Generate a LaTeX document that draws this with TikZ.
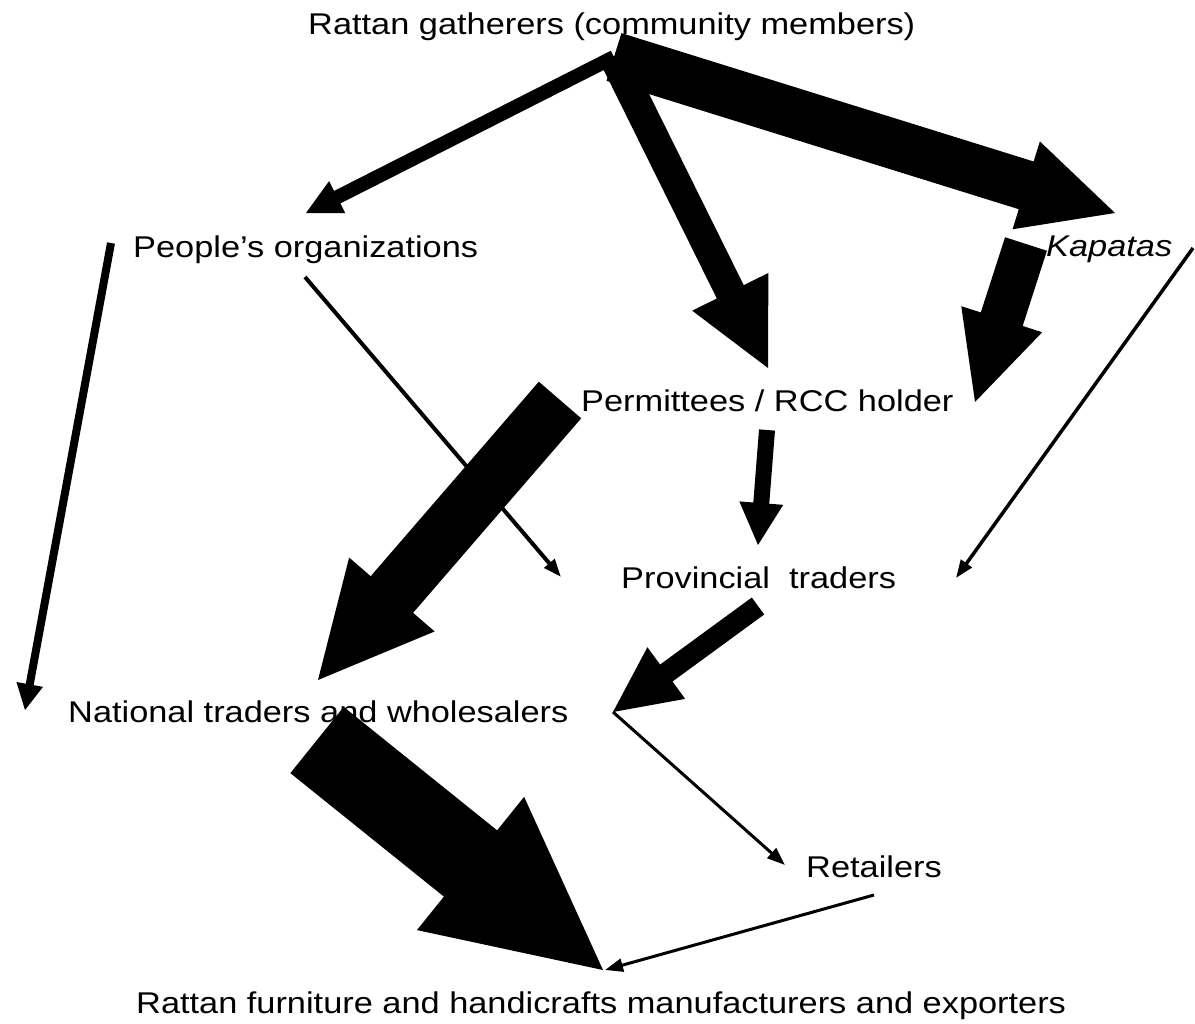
\documentclass[tikz,border=0pt]{standalone}
\usepackage{fontspec}
\setmainfont{Liberation Sans}[FakeStretch=1.145]
\usetikzlibrary{calc,arrows.meta}

% filled block arrow: tail, tip, shaft width, head width, head length (in pt)
\newcommand{\flowarrow}[5]{%
  \coordinate (neck) at ($(#2)!#5pt!(#1)$);
  \fill ($(#1)!#3pt/2!90:(#2)$) -- ($(neck)!#3pt/2!90:(#2)$)
    -- ($(neck)!#4pt/2!90:(#2)$) -- (#2)
    -- ($(neck)!#4pt/2!-90:(#2)$) -- ($(neck)!#3pt/2!-90:(#2)$)
    -- ($(#1)!#3pt/2!-90:(#2)$) -- cycle;}

\tikzset{
  lbl/.style={anchor=base west, inner sep=0pt, font=\fontsize{30}{36}\selectfont},
  thinflow/.style={draw, line width=#1, -{Triangle[length=18pt,width=13pt]}},
  thinflow/.default=3pt
}

\begin{document}
\begin{tikzpicture}[x=1pt, y=-1pt]
\useasboundingbox (0,0) rectangle (1195,1024);

\node[lbl] (gath) at (308,35) {Rattan gatherers (community members)};
\node[lbl] (po) at (133,258) {People’s organizations};
\node[lbl] (kap) at (1046,257) {\itshape Kapatas};
\node[lbl] (perm) at (581,412) {Permittees / RCC holder};
\node[lbl] (prov) at (621,588) {Provincial\ \ traders};
\node[lbl] (nat) at (68,722) {National traders and wholesalers};
\node[lbl] (ret) at (806,877) {Retailers};
\node[lbl] (manu) at (136,1013) {Rattan furniture and handicrafts manufacturers and exporters};

% arrow ends
\coordinate (hub) at (614,57);
\coordinate (po-in) at (306,213);
\coordinate (perm-in) at (768,368);
\coordinate (kap-in) at (1115,213);
\coordinate (kap-out) at (1026,244);
\coordinate (perm-in2) at (975,402);
\coordinate (kap-out2) at (1193,248);
\coordinate (prov-in2) at (956,578);
\coordinate (po-out) at (111,243);
\coordinate (nat-in2) at (25,710);
\coordinate (po-out2) at (305,277);
\coordinate (prov-in3) at (561,577);
\coordinate (perm-out) at (560,400);
\coordinate (nat-in) at (318,680);
\coordinate (perm-out2) at (767,430);
\coordinate (prov-in) at (758,545);
\coordinate (prov-out) at (758,606);
\coordinate (nat-in3) at (613,712);
\coordinate (ret-in) at (785,865);
\coordinate (nat-out) at (317,740);
\coordinate (manu-in) at (603,970);
\coordinate (ret-out) at (874,895);
\coordinate (manu-in2) at (605,970);

\flowarrow{hub}{po-in}{14}{36}{35}
\flowarrow{hub}{perm-in}{30}{85}{85}
\flowarrow{hub}{kap-in}{50}{92}{93}
\flowarrow{kap-out}{perm-in2}{44}{85}{87}
\flowarrow{po-out}{nat-in2}{8}{27}{26}
\draw[thinflow=4pt] (po-out2) -- (prov-in3);
\draw[thinflow=3.5pt] (kap-out2) -- (prov-in2);
\flowarrow{perm-out}{nat-in}{56}{113}{113}
\flowarrow{perm-out2}{prov-in}{16}{44}{42}
\flowarrow{prov-out}{nat-in3}{21}{64}{66}
\draw[thinflow] (nat-in3) -- (ret-in);
\flowarrow{nat-out}{manu-in}{85}{171}{170}
\draw[thinflow] (ret-out) -- (manu-in2);
\end{tikzpicture}
\end{document}
